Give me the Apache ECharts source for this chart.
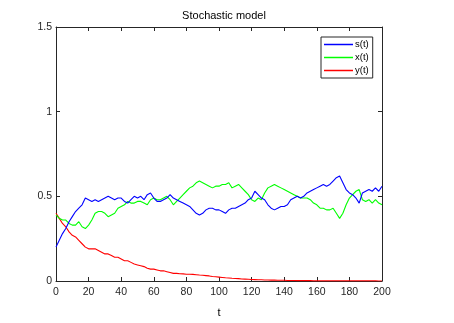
<!DOCTYPE html>
<html>
<head>
<meta charset="utf-8">
<script src="https://cdn.jsdelivr.net/npm/echarts@6/dist/echarts.min.js"></script>
<style>html,body{margin:0;padding:0;background:#fff;}#c{width:454px;height:323px;}</style>
</head>
<body>
<div id="c"></div>
<script>
var tValues = [0,2,4,6,8,10,12,14,16,18,20,22,24,26,28,30,32,34,36,38,40,42,44,46,48,50,52,54,56,58,60,62,64,66,68,70,72,74,76,78,80,82,84,86,88,90,92,94,96,98,100,102,104,106,108,110,112,114,116,118,120,122,124,126,128,130,132,134,136,138,140,142,144,146,148,150,152,154,156,158,160,162,164,166,168,170,172,174,176,178,180,182,184,186,188,190,192,194,196,198,200];
var sValues = [0.20,0.24,0.28,0.31,0.35,0.38,0.41,0.43,0.45,0.49,0.48,0.47,0.48,0.47,0.48,0.49,0.50,0.49,0.48,0.49,0.49,0.47,0.46,0.48,0.50,0.49,0.50,0.48,0.51,0.52,0.49,0.47,0.47,0.48,0.49,0.51,0.49,0.48,0.47,0.46,0.45,0.44,0.42,0.40,0.39,0.40,0.42,0.43,0.43,0.42,0.42,0.41,0.40,0.42,0.43,0.43,0.44,0.45,0.46,0.48,0.49,0.53,0.51,0.49,0.48,0.45,0.43,0.42,0.43,0.44,0.44,0.45,0.48,0.49,0.50,0.49,0.50,0.52,0.53,0.54,0.55,0.56,0.57,0.56,0.57,0.59,0.61,0.62,0.58,0.54,0.52,0.51,0.49,0.46,0.52,0.53,0.54,0.53,0.55,0.53,0.56];
var xValues = [0.39,0.37,0.36,0.36,0.34,0.33,0.33,0.35,0.32,0.31,0.33,0.36,0.40,0.41,0.41,0.40,0.38,0.39,0.40,0.43,0.44,0.45,0.47,0.46,0.46,0.47,0.47,0.46,0.45,0.48,0.49,0.48,0.48,0.49,0.50,0.48,0.45,0.47,0.49,0.51,0.53,0.55,0.56,0.58,0.59,0.58,0.57,0.56,0.55,0.56,0.56,0.57,0.57,0.58,0.55,0.56,0.57,0.55,0.53,0.51,0.48,0.47,0.49,0.48,0.52,0.55,0.56,0.57,0.56,0.55,0.54,0.53,0.52,0.51,0.50,0.49,0.49,0.49,0.48,0.46,0.45,0.43,0.43,0.42,0.42,0.43,0.40,0.37,0.40,0.45,0.49,0.51,0.53,0.54,0.48,0.47,0.48,0.46,0.48,0.46,0.45];
var yValues = [0.40,0.37,0.34,0.32,0.29,0.27,0.26,0.24,0.22,0.20,0.19,0.19,0.19,0.18,0.17,0.16,0.16,0.15,0.14,0.14,0.13,0.12,0.12,0.11,0.10,0.095,0.09,0.085,0.075,0.07,0.07,0.065,0.06,0.06,0.055,0.05,0.045,0.045,0.043,0.042,0.04,0.04,0.039,0.037,0.035,0.034,0.032,0.030,0.027,0.025,0.023,0.021,0.019,0.018,0.016,0.015,0.014,0.012,0.011,0.010,0.009,0.008,0.007,0.007,0.006,0.006,0.005,0.005,0.004,0.004,0.004,0.003,0.003,0.003,0.002,0.002,0.002,0.002,0.002,0.001,0.001,0.001,0.001,0.001,0.001,0.001,0.001,0.001,0.0008,0.0008,0.0007,0.0007,0.0006,0.0006,0.0006,0.0005,0.0005,0.0005,0.0005,0.0004,0.0004];
var seriesNames = ['s(t)','x(t)','y(t)'];
var xTicks = {min:0,max:200,interval:20};
var yTicks = {min:0,max:1.5,interval:0.5};

function pairs(v){ return tValues.map(function(t,i){ return [t, v[i]]; }); }
var colors = ['#0000ff','#00ff00','#ff0000'];
var chart = echarts.init(document.getElementById('c'), null, {renderer:'canvas'});
var axisLine = {show:true, onZero:false, lineStyle:{color:'#262626', width:1}};
var tick = {show:true, inside:true, length:4, lineStyle:{color:'#262626'}};
var font = 'Liberation Sans, Arial, sans-serif';
chart.setOption({
  animation:false,
  backgroundColor:'#fff',
  title:{text:'Stochastic model', left:219, textAlign:'center', top:5,
    textStyle:{fontFamily:font, fontSize:11, fontWeight:'normal', color:'#000'}},
  grid:{left:56, right:72, top:27, bottom:39.5, containLabel:false},
  legend:{orient:'vertical', left:321, top:37, data:seriesNames, icon:'rect',
    backgroundColor:'#fff', borderColor:'#262626', borderWidth:1, padding:[2,4,2,3],
    itemWidth:29, itemHeight:1.5, itemGap:2,
    textStyle:{fontFamily:font, fontSize:9.5, lineHeight:11, color:'#000', padding:[0,0,0,-3]}},
  xAxis:[{type:'value', min:xTicks.min, max:xTicks.max, interval:xTicks.interval, position:'bottom',
    name:'t', nameLocation:'middle', nameGap:26, nameTextStyle:{fontFamily:font, fontSize:11, color:'#000'},
    axisLine:axisLine, axisTick:tick, splitLine:{show:false},
    axisLabel:{fontFamily:font, fontSize:10.5, color:'#262626', margin:6}},
   {type:'value', min:xTicks.min, max:xTicks.max, interval:xTicks.interval, position:'top',
    axisLine:axisLine, axisTick:tick, splitLine:{show:false}, axisLabel:{show:false}}],
  yAxis:[{type:'value', min:yTicks.min, max:yTicks.max, interval:yTicks.interval, position:'left',
    axisLine:axisLine, axisTick:tick, splitLine:{show:false},
    axisLabel:{fontFamily:font, fontSize:10.5, color:'#262626', margin:4}},
   {type:'value', min:yTicks.min, max:yTicks.max, interval:yTicks.interval, position:'right',
    axisLine:axisLine, axisTick:tick, splitLine:{show:false}, axisLabel:{show:false}}],
  series:[sValues,xValues,yValues].map(function(v,i){
    return {name:seriesNames[i], type:'line', data:pairs(v), symbol:'none', showSymbol:false,
      lineStyle:{color:colors[i], width:1.1}, itemStyle:{color:colors[i]}, z:3-i};
  })
});
</script>
</body>
</html>
